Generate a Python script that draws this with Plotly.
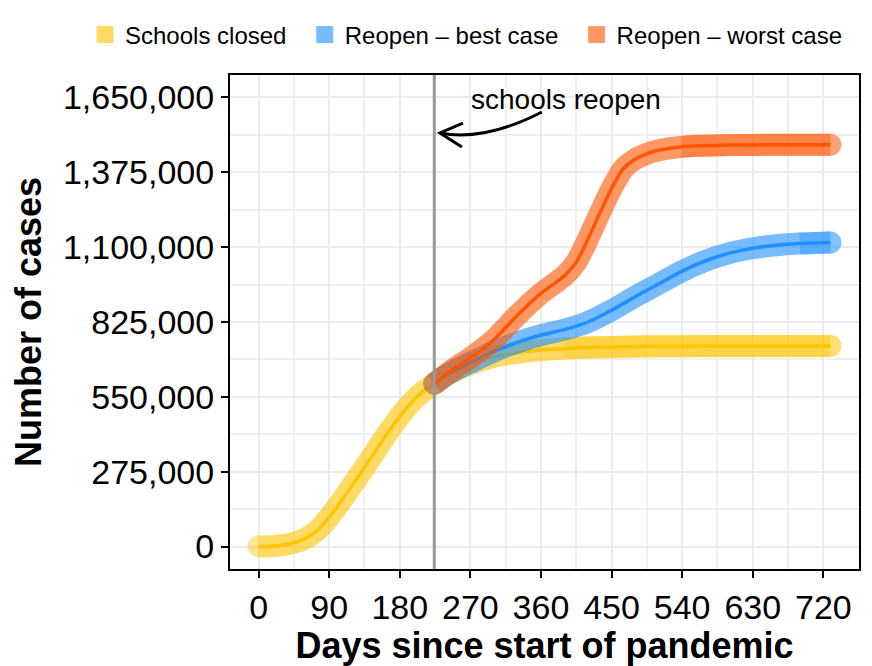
import plotly.graph_objects as go

# days since start of pandemic and cumulative cases
days_closed = [0, 15, 30, 45, 60, 75, 90, 105, 120, 135, 150, 165, 180, 195, 210, 224,
               240, 255, 270, 300, 330, 360, 390, 420, 450, 480, 540, 600, 660, 729]
cases_closed = [0, 1000, 5000, 14000, 30000, 60000, 108000, 165000, 228000, 290000, 355000,
                420000, 478000, 530000, 570000, 598000, 630000, 652000, 670000, 697000,
                712000, 722000, 728000, 731000, 733000, 735000, 736000, 737000, 737000, 737000]

days_best = [224, 240, 255, 270, 300, 330, 360, 390, 420, 450, 480, 510, 540, 570, 600,
             630, 660, 690, 729]
cases_best = [598000, 630000, 655000, 676000, 717000, 750000, 777000, 797000, 825000,
              868000, 918000, 965000, 1012000, 1050000, 1078000, 1096000, 1107000,
              1113000, 1117000]

days_worst = [224, 240, 255, 270, 300, 330, 360, 390, 405, 420, 435, 450, 465, 480, 495,
              510, 540, 600, 660, 729]
cases_worst = [598000, 635000, 665000, 693000, 760000, 850000, 930000, 995000, 1045000,
               1130000, 1225000, 1315000, 1388000, 1423000, 1443000, 1456000, 1469000,
               1475000, 1476000, 1476000]

scenarios = ["Schools closed", "Reopen \u2013 best case", "Reopen \u2013 worst case"]
colors = ["#FFC400", "#1E90FF", "#FF5500"]
# day from which the simulation runs overlap more and the band looks denser
dense_from = [390, 690, 540]
reopen_day = 224
x_ticks = [0, 90, 180, 270, 360, 450, 540, 630, 720]
y_ticks = [0, 275000, 550000, 825000, 1100000, 1375000, 1650000]

FONT = "Liberation Sans, Arial, Helvetica, sans-serif"

fig = go.Figure()

series = [(days_closed, cases_closed), (days_best, cases_best), (days_worst, cases_worst)]
for (x, y), name, col, d0 in zip(series, scenarios, colors, dense_from):
    caps = [0] * len(x)
    caps[0] = 22
    caps[-1] = 22
    # wide translucent band
    fig.add_trace(go.Scatter(x=x, y=y, mode="lines+markers", opacity=0.6,
                             line=dict(color=col, width=22, shape="spline", smoothing=0.6),
                             marker=dict(color=col, size=caps, line=dict(width=0)),
                             showlegend=False, hoverinfo="skip", legendgroup=name))
    # denser part of the band
    xd = [d for d in x if d >= d0]
    yd = [v for d, v in zip(x, y) if d >= d0]
    fig.add_trace(go.Scatter(x=xd, y=yd, mode="lines+markers", opacity=0.3,
                             line=dict(color=col, width=22, shape="spline", smoothing=0.6),
                             marker=dict(color=col, size=[0] * (len(xd) - 1) + [22],
                                         line=dict(width=0)),
                             showlegend=False, hoverinfo="skip", legendgroup=name))
    # median line
    fig.add_trace(go.Scatter(x=x, y=y, mode="lines", name=name,
                             line=dict(color=col, width=3.5, shape="spline", smoothing=0.6),
                             showlegend=False, legendgroup=name))
    # legend key
    fig.add_trace(go.Scatter(x=[None], y=[None], mode="markers", name=name + "\u00a0\u00a0",
                             legendgroup=name,
                             marker=dict(symbol="square", size=16, color=col, opacity=0.6,
                                         line=dict(color=col, width=1))))

fig.add_shape(type="line", xref="x", yref="paper", x0=reopen_day, x1=reopen_day, y0=0, y1=1,
              line=dict(color="#999999", width=3))

# curved arrow pointing at the reopening line
fig.add_shape(type="path", xref="paper", yref="paper",
              path="M 0.4958,0.9251 Q 0.4052,0.8654 0.3337,0.8826",
              line=dict(color="black", width=3))
fig.add_shape(type="path", xref="paper", yref="paper",
              path="M 0.3703,0.9028 L 0.3337,0.8826 L 0.3687,0.8543",
              line=dict(color="black", width=3))
fig.add_annotation(xref="paper", yref="paper", x=0.534, y=0.951, xanchor="center",
                   yanchor="middle", text="schools reopen", showarrow=False,
                   font=dict(family=FONT, size=28, color="black"))

fig.update_xaxes(range=[-36.45, 765.45], tickvals=x_ticks, ticks="outside", ticklen=7,
                 tickwidth=2, tickcolor="black", showline=True, linecolor="black",
                 linewidth=2, mirror=True, showgrid=True, gridcolor="#EBEBEB", gridwidth=2,
                 minor=dict(dtick=45, tick0=0, showgrid=True, gridcolor="#F0F0F0", gridwidth=1.5),
                 zeroline=False, automargin=False,
                 tickfont=dict(family=FONT, size=34, color="black"),
                 title=dict(text="<b>Days since start of pandemic</b>", standoff=5,
                            font=dict(family=FONT, size=36, color="black")))
fig.update_yaxes(range=[-82500, 1732500], tickvals=y_ticks, tickformat=",", ticks="outside",
                 ticklen=7, tickwidth=2, tickcolor="black", showline=True, linecolor="black",
                 linewidth=2, mirror=True, showgrid=True, gridcolor="#EBEBEB", gridwidth=2,
                 minor=dict(dtick=137500, tick0=0, showgrid=True, gridcolor="#F0F0F0", gridwidth=1.5),
                 zeroline=False, automargin=False,
                 tickfont=dict(family=FONT, size=34, color="black"),
                 title=dict(text="<b>Number of cases</b>", standoff=14,
                            font=dict(family=FONT, size=36, color="black")))

# the page body adds 8px on each side, so the figure is drawn 8px smaller
fig.update_layout(width=864, height=658, plot_bgcolor="white", paper_bgcolor="white",
                  margin=dict(l=222, r=13, t=67, b=97, autoexpand=False),
                  legend=dict(orientation="h", x=-0.2305, xanchor="left", y=1.081,
                              yanchor="middle", bgcolor="rgba(0,0,0,0)",
                              font=dict(family=FONT, size=24, color="black"),
                              itemclick=False, itemdoubleclick=False))

fig.write_html("out.html")
